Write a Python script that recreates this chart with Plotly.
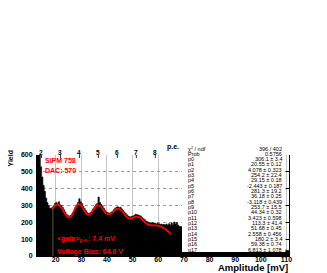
import numpy as np
import plotly.graph_objects as go

# ---------------- data ----------------
main_start = 12.5          # mV, left edge of first fine bin
main_step = 0.5            # mV
yield_main = [
    720, 680, 600, 530, 470, 420, 385, 345, 318, 300,
    285, 282, 290, 298, 312, 318, 308, 322, 305, 300,
    288, 275, 262, 248, 240, 236, 240, 246, 258, 270,
    290, 304, 318, 340, 322, 312, 296, 282, 270, 258,
    252, 255, 260, 268, 282, 292, 305, 312, 350, 318,
    306, 296, 285, 272, 262, 258, 254, 256, 262, 266,
    276, 284, 290, 292, 286, 290, 280, 272, 262, 254,
    245, 238, 234, 232, 236, 238, 242, 248, 245, 244,
    240, 236, 228, 222, 215, 208, 204, 200, 198, 196,
    198, 194, 196, 190, 195, 192, 188, 190, 186, 188,
    184, 190, 182, 192, 184, 196, 186, 202, 190, 198,
    184,
]
tail_start = 68.0
tail_step = 2.0
yield_tail = [175, 160, 150, 140, 130, 120, 112, 104, 96, 90, 84,
              78, 72, 66, 60, 56, 52, 48, 44, 40, 36, 33]

fit_start = [18.8]
fit_first_y = [276]
fit_y = [
    285, 296, 303, 306, 305, 300, 291, 280, 266, 254,
    242, 234, 229, 231, 237, 249, 264, 280, 294, 304,
    309, 306, 300, 288, 273, 260, 250, 245, 245, 250,
    260, 272, 283, 293, 300, 301, 299, 293, 285, 275,
    264, 255, 250, 247, 248, 251, 257, 264, 271, 277,
    280, 280, 277, 271, 263, 254, 244, 235, 228, 224,
    222, 223, 226, 229, 232, 234, 233, 230, 226, 219,
    212, 204, 197, 192, 187, 185, 183, 182, 182, 182,
    182, 181, 180, 178, 175, 171, 167, 162, 157, 150,
    143, 136, 128,
]
fit_range_low = 18.9

x_ticks = [20, 30, 40, 50, 60, 70, 80, 90, 100, 110]
y_ticks = [0, 100, 200, 300, 400, 500, 600]
pe_labels = [2, 3, 4, 5, 6, 7, 8]
gain_mv = 7.4
pe_offset = -0.35

stat_names = ["χ<sup>2</sup> / ndf", "Prob"] + ["p%d" % i for i in range(18)]
stat_values = ["396 / 402", "0.5756", "306.1 ± 3.4", "20.55 ± 0.12",
               "4.078 ± 0.323", "254.2 ± 22.4", "29.15 ± 0.18",
               "-2.443 ± 0.187", "281.3 ± 19.2", "36.18 ± 0.25",
               "-3.118 ± 0.439", "253.7 ± 15.5", "44.34 ± 0.32",
               "3.423 ± 0.598", "113.3 ± 41.4", "51.68 ± 0.45",
               "2.558 ± 0.456", "180.2 ± 3.4", "59.38 ± 0.74",
               "6.813 ± 1.078"]

# ---------------- build ----------------
x_main = [main_start + main_step * i for i in range(len(yield_main))]
x_tail = [tail_start + tail_step * i for i in range(len(yield_tail))]
hx = x_main + x_tail + [tail_start + tail_step * len(yield_tail)]
hy = yield_main + yield_tail + [yield_tail[-1]]

fit_x = fit_start + [19.0 + 0.5 * i for i in range(len(fit_y))]
fy = fit_first_y + fit_y

FONT = "Liberation Sans, Arial, sans-serif"
RED = "#ff0000"

fig = go.Figure()
fig.add_trace(go.Scatter(x=hx, y=hy, mode="lines", line=dict(shape="hv", color="black", width=0.6),
                         fill="tozeroy", fillcolor="black", showlegend=False, hoverinfo="skip"))
fig.add_trace(go.Scatter(x=[fit_range_low, fit_range_low], y=[0, 282], mode="lines",
                         line=dict(color="#555555", width=1), showlegend=False, hoverinfo="skip"))
fig.add_trace(go.Scatter(x=fit_x, y=fy, mode="lines", line=dict(color=RED, width=1.8, shape="spline"),
                         showlegend=False, hoverinfo="skip"))

OFF = 8  # page body margin
X0, X1 = 12.7, 111.0
W, H = 327, 273
pw, ph = 252, 101
L = 37 - OFF
T = 155 - OFF
R = W - L - pw
B = H - T - ph


def px_to_paper_x(px):
    return (px - OFF - L) / pw


def px_to_paper_y(py):
    return (T + ph - (py - OFF)) / ph


shapes = []
annotations = []

# stats box (white, covers the tail)
shapes.append(dict(type="rect", xref="paper", yref="paper",
                   x0=px_to_paper_x(182), x1=px_to_paper_x(285.5),
                   y0=px_to_paper_y(252), y1=px_to_paper_y(143),
                   fillcolor="white", line=dict(width=0), layer="above"))

# top p.e. axis
for n in pe_labels:
    xm = n * gain_mv + pe_offset
    shapes.append(dict(type="line", xref="x", yref="paper", x0=xm, x1=xm,
                       y0=1.0, y1=1.0 - 3.0 / ph, line=dict(color="black", width=0.8)))
    annotations.append(dict(x=xm, y=px_to_paper_y(152), xref="x", yref="paper", text="<b>%d</b>" % n,
                            showarrow=False, font=dict(family=FONT, size=6.5, color="black"),
                            xanchor="center", yanchor="middle"))
annotations.append(dict(x=px_to_paper_x(173), y=px_to_paper_y(146.5), xref="paper", yref="paper",
                        text="<b>p.e.</b>", showarrow=False,
                        font=dict(family=FONT, size=7, color="black"), xanchor="center", yanchor="middle"))

# stats text
n_rows = len(stat_names)
top_py, bot_py = 148.5, 249.5
for i, (nm, val) in enumerate(zip(stat_names, stat_values)):
    py = top_py + (bot_py - top_py) * i / (n_rows - 1)
    annotations.append(dict(x=px_to_paper_x(186), y=px_to_paper_y(py), xref="paper", yref="paper",
                            text=nm, showarrow=False, font=dict(family=FONT, size=5.5, color="black"),
                            xanchor="left", yanchor="middle"))
    annotations.append(dict(x=px_to_paper_x(284), y=px_to_paper_y(py), xref="paper", yref="paper",
                            text=val, showarrow=False, font=dict(family=FONT, size=5.5, color="black"),
                            xanchor="right", yanchor="middle"))

# red labels
for txt, px, py in [("SiPM 758", 43, 160.5), ("DAC: 570", 43, 170),
                    ("&lt;gain&gt;<sub>p.e.</sub>: 7.4 mV", 55, 238.5),
                    ("Voltage Bias: 64.6 V", 55, 251.5)]:
    annotations.append(dict(x=px_to_paper_x(px), y=px_to_paper_y(py), xref="paper", yref="paper",
                            text="<b>%s</b>" % txt, showarrow=False,
                            font=dict(family=FONT, size=7, color=RED), xanchor="left", yanchor="middle"))

# axis titles
annotations.append(dict(x=px_to_paper_x(290), y=px_to_paper_y(267.5), xref="paper", yref="paper",
                        text="<b>Amplitude [mV]</b>", showarrow=False,
                        font=dict(family=FONT, size=9.5, color="black"), xanchor="right", yanchor="middle"))
annotations.append(dict(x=px_to_paper_x(9.5), y=px_to_paper_y(159), xref="paper", yref="paper",
                        text="<b>Yield</b>", showarrow=False, textangle=-90,
                        font=dict(family=FONT, size=7, color="black"), xanchor="center", yanchor="middle"))

fig.update_layout(
    width=W, height=H,
    margin=dict(l=L, r=R, t=T, b=B, pad=0, autoexpand=False),
    paper_bgcolor="white", plot_bgcolor="white",
    shapes=shapes, annotations=annotations,
    font=dict(family=FONT, size=7, color="black"),
    xaxis=dict(range=[X0, X1], tickvals=x_ticks, ticktext=["<b>%d</b>" % v for v in x_ticks],
               automargin=False,
               ticks="inside", ticklen=4, tickcolor="black", showline=True, linecolor="black",
               linewidth=1, showgrid=True, gridcolor="#c4c4c4", gridwidth=0.7, zeroline=False,
               tickfont=dict(family=FONT, size=7, color="black"), ticklabelstandoff=-3),
    yaxis=dict(range=[0, 600], tickvals=y_ticks, ticktext=["<b>%d</b>" % v for v in y_ticks],
               automargin=False,
               ticks="inside", ticklen=4, tickcolor="black", showline=True, linecolor="black",
               linewidth=1, mirror="ticks", showgrid=True, gridcolor="#9a9a9a", gridwidth=0.7,
               griddash="dot", zeroline=False,
               tickfont=dict(family=FONT, size=7, color="black"), ticklabelstandoff=2),
)

fig.write_html("out.html")
